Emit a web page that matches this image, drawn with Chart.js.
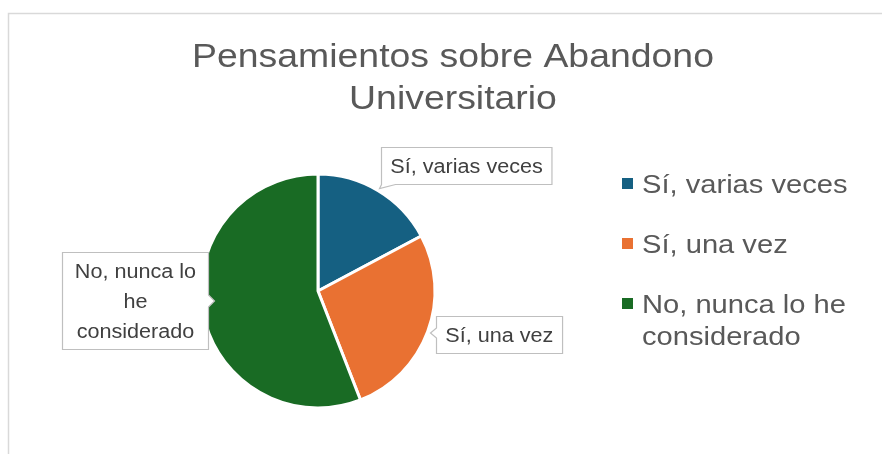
<!DOCTYPE html>
<html>
<head>
<meta charset="utf-8">
<script src="https://cdn.jsdelivr.net/npm/chart.js@4.4.1/dist/chart.umd.min.js"></script>
<style>
	body { margin: 0; background: #fff; }
	#wrap { width: 882px; height: 454px; position: relative; }
</style>
</head>
<body>
<div id="wrap"><canvas id="pieChart" width="882" height="454"></canvas></div>
<script>
const categories = ['Sí, varias veces', 'Sí, una vez', 'No, nunca lo he considerado']
const responses = [16, 25, 52]
const sliceColors = ['#156082', '#E97132', '#196B24']
const titleLines = ['Pensamientos sobre Abandono', 'Universitario']

const FONT = '"Liberation Sans", Arial, sans-serif'
const STRETCH = 1.1

//draw text a bit wider, like the office font
const fillWide = (ctx, text, x, y, sx) => {
	ctx.save()
	ctx.translate(x, y)
	ctx.scale(sx, 1)
	ctx.fillText(text, 0, 0)
	ctx.restore()
}

//split text into lines that fit maxWidth
const wrapText = (ctx, text, maxWidth, sx) => {
	const words = text.split(' ')
	let lines = []
	let line = ''
	words.forEach(w => {
		const test = line ? line + ' ' + w : w
		if (line && ctx.measureText(test).width * sx > maxWidth) {
			lines.push(line)
			line = w
		} else {
			line = test
		}
	})
	if (line) lines.push(line)
	return lines
}

//frame + title
const framePlugin = {
	id: 'frame',
	beforeDraw(chart) {
		const ctx = chart.ctx
		ctx.save()
		ctx.fillStyle = '#fff'
		ctx.fillRect(0, 0, chart.width, chart.height)
		ctx.strokeStyle = '#d9d9d9'
		ctx.lineWidth = 1.5
		ctx.strokeRect(8.5, 13.5, chart.width + 20, chart.height + 20)

		ctx.fillStyle = '#595959'
		ctx.font = `34px ${FONT}`
		ctx.textAlign = 'center'
		ctx.textBaseline = 'alphabetic'
		titleLines.forEach((t, i) => fillWide(ctx, t, 453, 67 + i * 42, STRETCH))
		ctx.restore()
	}
}

//right side legend with wrapping
const sideLegend = {
	id: 'sideLegend',
	afterDraw(chart) {
		const ctx = chart.ctx
		const labels = chart.data.labels
		const colors = chart.data.datasets[0].backgroundColor
		const sx = 1.12
		ctx.save()
		ctx.font = `26px ${FONT}`
		ctx.textAlign = 'left'
		ctx.textBaseline = 'alphabetic'
		let y = 193
		labels.forEach((label, i) => {
			ctx.fillStyle = colors[i]
			ctx.fillRect(622, y - 15, 11, 11)
			ctx.fillStyle = '#595959'
			const lines = wrapText(ctx, label, 225, sx)
			lines.forEach((l, j) => fillWide(ctx, l, 642, y + j * 32, sx))
			y += 60 + (lines.length - 1) * 4
		})
		ctx.restore()
	}
}

//callout data labels
const callouts = {
	id: 'callouts',
	afterDatasetsDraw(chart, args, opts) {
		const ctx = chart.ctx
		const meta = chart.getDatasetMeta(0)
		const sx = 1.08
		ctx.save()
		ctx.font = `20px ${FONT}`
		ctx.textBaseline = 'alphabetic'
		ctx.textAlign = 'center'
		meta.data.forEach((arc, i) => {
			const {x, y, outerRadius} = arc.getProps(['x', 'y', 'outerRadius'], true)
			const off = opts.offsets[i]
			const cx = x + off[0] * outerRadius
			const cy = y + off[1] * outerRadius
			const lines = wrapText(ctx, chart.data.labels[i], opts.maxWidth[i], sx)
			const lh = 30
			let w = 0
			lines.forEach(l => { w = Math.max(w, ctx.measureText(l).width * sx) })
			const padX = 9
			const bw = Math.max(w + padX * 2, opts.minWidth[i])
			const bh = lines.length * lh + 7
			const bx = Math.round(cx - bw / 2) + 0.5
			const by = Math.round(cy - bh / 2) + 0.5

			ctx.fillStyle = '#fff'
			ctx.strokeStyle = '#bfbfbf'
			ctx.lineWidth = 1.2
			ctx.beginPath()
			if (opts.tail[i] === 'left') {
				const my = by + bh / 2
				ctx.moveTo(bx, by)
				ctx.lineTo(bx + bw, by)
				ctx.lineTo(bx + bw, by + bh)
				ctx.lineTo(bx, by + bh)
				ctx.lineTo(bx, my + 3)
				ctx.lineTo(bx - 6, my - 2)
				ctx.lineTo(bx, my - 7)
				ctx.closePath()
			} else if (opts.tail[i] === 'right') {
				const my = by + bh / 2
				ctx.moveTo(bx, by)
				ctx.lineTo(bx + bw, by)
				ctx.lineTo(bx + bw, my - 6)
				ctx.lineTo(bx + bw + 6, my)
				ctx.lineTo(bx + bw, my + 6)
				ctx.lineTo(bx + bw, by + bh)
				ctx.lineTo(bx, by + bh)
				ctx.closePath()
			} else {
				ctx.moveTo(bx, by)
				ctx.lineTo(bx + bw, by)
				ctx.lineTo(bx + bw, by + bh)
				ctx.lineTo(bx + 14, by + bh)
				ctx.lineTo(bx - 2, by + bh + 4)
				ctx.lineTo(bx, by + bh)
				ctx.closePath()
			}
			ctx.fill()
			ctx.stroke()

			ctx.fillStyle = '#404040'
			lines.forEach((l, j) => fillWide(ctx, l, cx, by + 25 + j * lh, sx))
		})
		ctx.restore()
	}
}

document.addEventListener('DOMContentLoaded', () => {
	const pieChart = document.getElementById('pieChart')

	new Chart(pieChart, {
		type: 'pie',
		data: {
			labels: categories,
			datasets: [{
				data: responses,
				backgroundColor: sliceColors,
				borderColor: '#ffffff',
				borderWidth: 3,
				radius: 117
			}]
		},
		options: {
			responsive: false,
			animation: false,
			events: [],
			layout: {
				padding: { left: 0, right: 246, top: 128, bottom: 0 }
			},
			plugins: {
				legend: { display: false },
				title: { display: false },
				tooltip: { enabled: false },
				callouts: {
					offsets: [[1.27, -1.07], [1.55, 0.37], [-1.56, 0.085]],
					maxWidth: [400, 400, 135],
					minWidth: [0, 0, 146],
					tail: ['bottom', 'left', 'right']
				}
			}
		},
		plugins: [framePlugin, callouts, sideLegend]
	})
})
</script>
</body>
</html>
